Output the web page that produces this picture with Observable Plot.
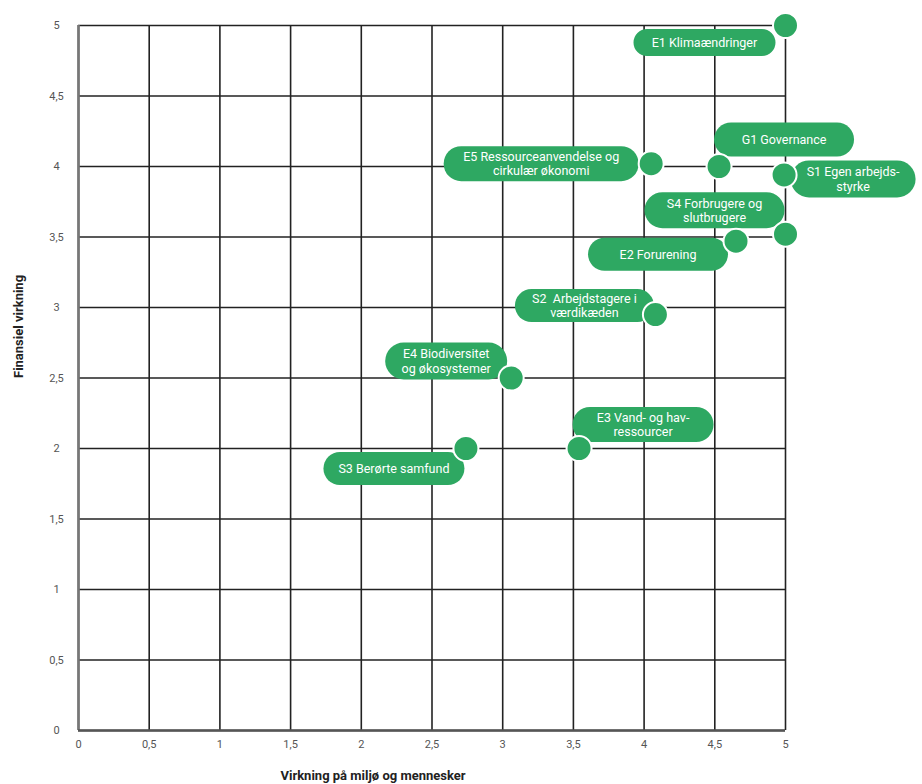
<!DOCTYPE html>
<html>
<head>
<meta charset="utf-8">
<script src="https://cdn.jsdelivr.net/npm/d3@7"></script>
<script src="https://cdn.jsdelivr.net/npm/@observablehq/plot@0.6"></script>
<style>
  html, body { margin: 0; padding: 0; background: #fff; }
  #chart svg { display: block; }
</style>
</head>
<body>
<div id="chart"></div>
<script>
// ---- data ----
const codes = ["E1", "G1", "E5", "S1", "S4", "E2", "S2", "E4", "E3", "S3"];
const labels = [
  "E1 Klimaændringer",
  "G1 Governance",
  "E5 Ressourceanvendelse og\ncirkulær økonomi",
  "S1 Egen arbejds-\nstyrke",
  "S4 Forbrugere og\nslutbrugere",
  "E2 Forurening",
  "S2  Arbejdstagere i\nværdikæden",
  "E4 Biodiversitet\nog økosystemer",
  "E3 Vand- og hav-\nressourcer",
  "S3 Berørte samfund"
];
const impactX = [5.0, 4.53, 4.05, 4.99, 5.0, 4.65, 4.08, 3.06, 3.54, 2.74];
const financialY = [5.0, 4.0, 4.02, 3.94, 3.52, 3.47, 2.95, 2.5, 2.0, 2.0];
const xTicks = [0, 0.5, 1, 1.5, 2, 2.5, 3, 3.5, 4, 4.5, 5];
const yTicks = [0, 0.5, 1, 1.5, 2, 2.5, 3, 3.5, 4, 4.5, 5];
const xTitle = "Virkning på miljø og mennesker";
const yTitle = "Finansiel virkning";

// ---- label placement (pixel styles: pill centre offset & size) ----
const pillStyle = [
  {dx: -81, dy: 17, w: 142, h: 27},
  {dx: 65, dy: -27, w: 140, h: 34},
  {dx: -110, dy: 0, w: 195, h: 35},
  {dx: 69, dy: 4, w: 125, h: 37},
  {dx: -71, dy: -24, w: 140, h: 36},
  {dx: -78, dy: 13, w: 140, h: 33},
  {dx: -71, dy: -9, w: 139, h: 33},
  {dx: -65, dy: -17, w: 122, h: 37},
  {dx: 64, dy: -24, w: 141, h: 35},
  {dx: -72, dy: 20, w: 141, h: 33}
];

const GREEN = "#2ea862";
const fmt = d => String(d).replace(".", ",");

const points = codes.map((c, i) => ({code: c, label: labels[i], x: impactX[i], y: financialY[i]}));

function pillSymbol(cx, cy, w, h) {
  const r = h / 2;
  return {
    draw(c) {
      const x0 = cx - w / 2, x1 = cx + w / 2, y0 = cy - h / 2, y1 = cy + h / 2;
      c.moveTo(x0 + r, y0);
      c.lineTo(x1 - r, y0);
      c.arc(x1 - r, cy, r, -Math.PI / 2, Math.PI / 2);
      c.lineTo(x0 + r, y1);
      c.arc(x0 + r, cy, r, Math.PI / 2, 3 * Math.PI / 2);
      c.closePath();
    }
  };
}

const pillMarks = points.map((p, i) => Plot.dot([p], {
  x: "x", y: "y", r: 1,
  symbol: pillSymbol(pillStyle[i].dx, pillStyle[i].dy, pillStyle[i].w, pillStyle[i].h),
  fill: GREEN, stroke: "none"
}));
const textMarks = points.map((p, i) => Plot.text([p], {
  x: "x", y: "y", text: "label",
  dx: pillStyle[i].dx, dy: pillStyle[i].dy,
  textAnchor: "middle", lineAnchor: "middle", lineHeight: 1.15,
  fill: "white", fontSize: 12.5, fontFamily: "Roboto"
}));

const chart = Plot.plot({
  width: 922,
  height: 784,
  marginLeft: 78,
  marginRight: 137,
  marginTop: 25,
  marginBottom: 54,
  style: {fontFamily: "Roboto", fontSize: "11px", color: "#555", background: "white"},
  x: {domain: [0, 5], ticks: xTicks, tickFormat: fmt, tickSize: 0, tickPadding: 10, label: null},
  y: {domain: [0, 5], axis: null},
  marks: [
    Plot.ruleX(xTicks, {stroke: "#222", strokeWidth: 1.6}),
    Plot.ruleY(yTicks, {stroke: "#222", strokeWidth: 1.6}),
    Plot.ruleX([0], {stroke: "#777", strokeWidth: 2.6}),
    Plot.ruleY([0], {stroke: "#555", strokeWidth: 2.4}),
    Plot.text(yTicks, {x: 0, y: d => d, text: fmt, dx: -22, textAnchor: "middle", fill: "#555", fontSize: 11}),
    ...pillMarks,
    ...textMarks,
    Plot.dot(points, {x: "x", y: "y", r: 12.5, fill: GREEN, stroke: "white", strokeWidth: 2}),
    Plot.text([xTitle], {frameAnchor: "bottom", text: d => d, dx: -59, dy: 45, lineAnchor: "middle",
      fontWeight: "bold", fontSize: 13, fill: "#222"}),
    Plot.text([yTitle], {frameAnchor: "left", text: d => d, dx: -60, rotate: -90, lineAnchor: "middle",
      fontWeight: "bold", fontSize: 13, fill: "#222"})
  ]
});
document.getElementById("chart").appendChild(chart);
</script>
</body>
</html>
